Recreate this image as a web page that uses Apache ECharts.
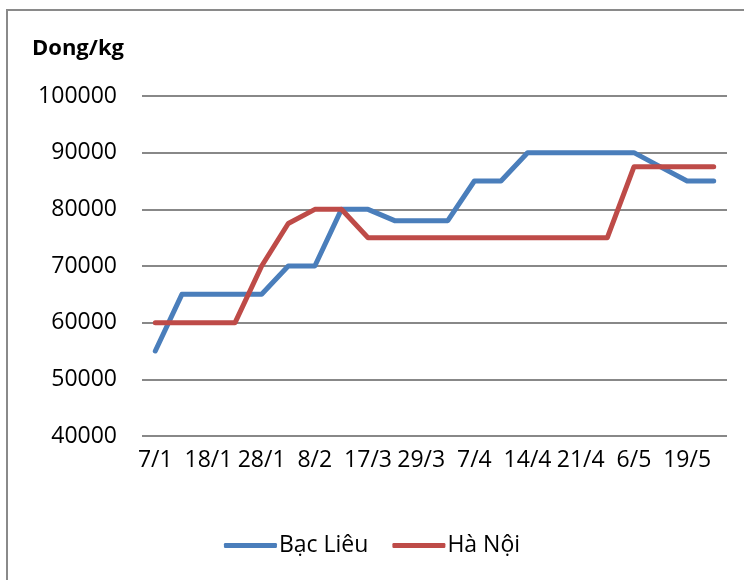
<!DOCTYPE html>
<html>
<head>
<meta charset="utf-8">
<script src="https://cdn.jsdelivr.net/npm/echarts@6/dist/echarts.min.js"></script>
<style>
  html, body { margin: 0; padding: 0; background: #fff; }
  #main { width: 744px; height: 580px; }
</style>
</head>
<body>
<div id="main"></div>
<script type="text/javascript">
// ngày (chỉ hiện nhãn cách một)
var dates = ["7/1", "12/1", "18/1", "23/1", "28/1", "3/2", "8/2", "10/3", "17/3", "24/3", "29/3",
  "2/4", "7/4", "10/4", "14/4", "18/4", "21/4", "30/4", "6/5", "13/5", "19/5", "26/5"];
var bacLieu = [55000, 65000, 65000, 65000, 65000, 70000, 70000, 80000, 80000, 78000, 78000,
  78000, 85000, 85000, 90000, 90000, 90000, 90000, 90000, 87500, 85000, 85000];
var haNoi = [60000, 60000, 60000, 60000, 70000, 77500, 80000, 80000, 75000, 75000, 75000,
  75000, 75000, 75000, 75000, 75000, 75000, 75000, 87500, 87500, 87500, 87500];
var seriesNames = ["Bạc Liêu", "Hà Nội"];

var FONT = "Open Sans";
var chart = echarts.init(document.getElementById("main"));
var option = {
  backgroundColor: "#fff",
  animation: false,
  title: {
    text: "Dong/kg",
    left: 27,
    top: 33,
    textStyle: { fontFamily: FONT, fontWeight: "bold", fontSize: 22, color: "#000" }
  },
  graphic: [{
    // khung viền
    type: "rect",
    shape: { x: 7, y: 10, width: 900, height: 900 },
    style: { fill: null, stroke: "#8a8a8a", lineWidth: 2 },
    silent: true
  }],
  legend: {
    data: seriesNames,
    bottom: 18,
    left: "center",
    itemWidth: 53,
    itemHeight: 5,
    itemGap: 24,
    icon: "roundRect",
    textStyle: { fontFamily: FONT, fontSize: 23, color: "#000", padding: [0, 0, 0, -3] }
  },
  grid: { left: 142, right: 17, top: 96, bottom: 144 },
  xAxis: {
    type: "category",
    data: dates,
    boundaryGap: true,
    axisLine: { show: false },
    axisTick: { show: false },
    axisLabel: {
      interval: 1,
      margin: 13,
      fontFamily: FONT,
      fontSize: 23,
      color: "#000"
    }
  },
  yAxis: {
    type: "value",
    min: 40000,
    max: 100000,
    interval: 10000,
    axisLine: { show: false },
    axisTick: { show: false },
    axisLabel: {
      margin: 25, fontFamily: FONT, fontSize: 23, color: "#000",
      formatter: function (v) { return String(v); }
    },
    splitLine: { lineStyle: { color: "#888", width: 2 } }
  },
  series: [
    {
      name: seriesNames[0],
      type: "line",
      data: bacLieu,
      symbol: "none",
      color: "#4A7EBB",
      lineStyle: { color: "#4A7EBB", width: 5, cap: "round", join: "round" }
    },
    {
      name: seriesNames[1],
      type: "line",
      data: haNoi,
      symbol: "none",
      color: "#BE4B48",
      lineStyle: { color: "#BE4B48", width: 5, cap: "round", join: "round" }
    }
  ]
};
chart.setOption(option);
</script>
</body>
</html>
